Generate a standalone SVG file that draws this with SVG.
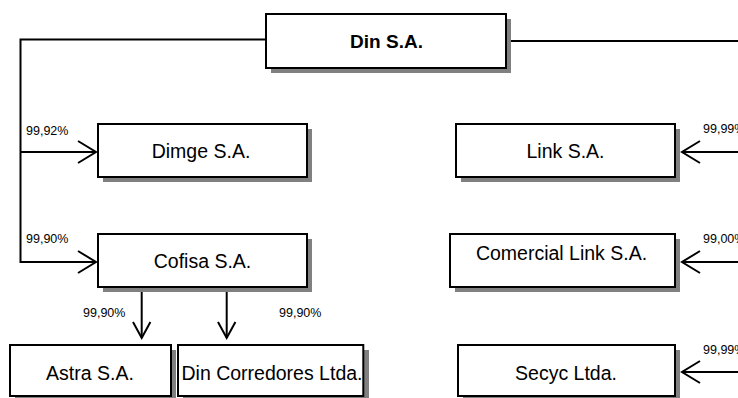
<svg xmlns="http://www.w3.org/2000/svg" width="738" height="398" viewBox="0 0 738 398">
<style>
.sh{fill:#808080}
.bx{fill:#fff;stroke:#000;stroke-width:2}
.t{font-family:"Liberation Sans",Arial,sans-serif;font-size:19.5px;fill:#000;text-anchor:middle}
.b{font-weight:bold;font-size:19px}
.p{font-family:"Liberation Sans",Arial,sans-serif;font-size:12.5px;fill:#000}
.ln{fill:none;stroke:#000;stroke-width:2}
</style>
<rect width="738" height="398" fill="#fff"/>
<g id="connectors">
<polyline class="ln" points="266,39.5 20.5,39.5 20.5,262 96,262"/>
<line class="ln" x1="20.5" y1="152" x2="96" y2="152"/>
<polyline class="ln" points="78,141 96,152 78,163"/>
<polyline class="ln" points="78,251 96,262 78,273"/>
<line class="ln" x1="506" y1="41" x2="738" y2="41"/>
<line class="ln" x1="738" y1="152" x2="682" y2="152"/>
<polyline class="ln" points="700,141 682,152 700,163"/>
<line class="ln" x1="738" y1="262" x2="682" y2="262"/>
<polyline class="ln" points="700,251 682,262 700,273"/>
<line class="ln" x1="738" y1="372" x2="682" y2="372"/>
<polyline class="ln" points="700,361 682,372 700,383"/>
<line class="ln" x1="141.7" y1="287" x2="141.7" y2="338"/>
<polyline class="ln" points="133,322 141.7,338 150.4,322"/>
<line class="ln" x1="226.7" y1="287" x2="226.7" y2="338"/>
<polyline class="ln" points="218,322 226.7,338 235.4,322"/>
<text class="p" x="26" y="135">99,92%</text>
<text class="p" x="26" y="243">99,90%</text>
<text class="p" x="83" y="317">99,90%</text>
<text class="p" x="279" y="317">99,90%</text>
<text class="p" x="703" y="133">99,99%</text>
<text class="p" x="703" y="243">99,00%</text>
<text class="p" x="703" y="354">99,99%</text>
</g>
<g id="din">
<rect class="sh" x="271" y="19" width="240" height="54"/>
<rect class="bx" x="266" y="14" width="240" height="54"/>
<text class="t b" x="386.5" y="48">Din S.A.</text>
</g>
<g id="dimge">
<rect class="sh" x="103" y="129" width="209" height="53"/>
<rect class="bx" x="98" y="124" width="209" height="53"/>
<text class="t" x="201" y="158">Dimge S.A.</text>
</g>
<g id="cofisa">
<rect class="sh" x="103" y="239" width="209" height="53"/>
<rect class="bx" x="98" y="234" width="209" height="53"/>
<text class="t" x="202.5" y="268">Cofisa S.A.</text>
</g>
<g id="astra">
<rect class="sh" x="15" y="350" width="161" height="52"/>
<rect class="bx" x="10" y="345" width="161" height="51"/>
<text class="t" x="90" y="380">Astra S.A.</text>
</g>
<g id="dincorredores">
<rect class="sh" x="183" y="350" width="186" height="52"/>
<rect class="bx" x="178" y="345" width="185.3" height="51"/>
<text class="t" x="272" y="380">Din Corredores Ltda.</text>
</g>
<g id="link">
<rect class="sh" x="461" y="129" width="219" height="53"/>
<rect class="bx" x="456" y="124" width="219" height="53"/>
<text class="t" x="565.5" y="158">Link S.A.</text>
</g>
<g id="comerciallink">
<rect class="sh" x="455" y="239" width="225" height="53"/>
<rect class="bx" x="450" y="234" width="225" height="53"/>
<text class="t" x="561.5" y="260">Comercial Link S.A.</text>
</g>
<g id="secyc">
<rect class="sh" x="463" y="350" width="217" height="52"/>
<rect class="bx" x="458" y="345" width="217" height="51"/>
<text class="t" x="566" y="380">Secyc Ltda.</text>
</g>
</svg>
